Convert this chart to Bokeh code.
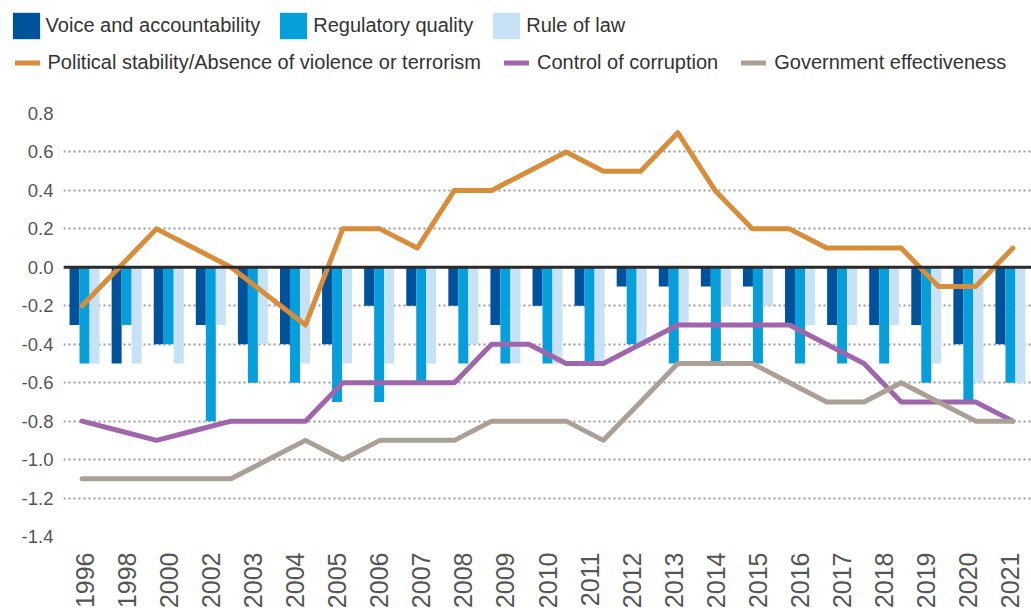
import math
from bokeh.plotting import figure
from bokeh.models import (FactorRange, Range1d, FixedTicker, Span, Legend, LegendItem,
                          CategoricalScale, ColumnDataSource, NumeralTickFormatter)
from bokeh.transform import dodge
from bokeh.embed import file_html
from bokeh.resources import INLINE

# ---- data ----
bar_years = ["1996", "1998", "2000", "2002", "2003", "2004", "2005", "2006", "2007",
             "2008", "2009", "2010", "2011", "2012", "2013", "2014", "2015", "2016",
             "2017", "2018", "2019", "2020", "2021"]
voice = [-0.3, -0.5, -0.4, -0.3, -0.4, -0.4, -0.4, -0.2, -0.2, -0.2, -0.3, -0.2,
         -0.2, -0.1, -0.1, -0.1, -0.1, -0.3, -0.3, -0.3, -0.3, -0.4, -0.4]
regulatory = [-0.5, -0.3, -0.4, -0.8, -0.6, -0.6, -0.7, -0.7, -0.6, -0.5, -0.5, -0.5,
              -0.5, -0.4, -0.5, -0.5, -0.5, -0.5, -0.5, -0.5, -0.6, -0.7, -0.6]
rule_of_law = [-0.5, -0.5, -0.5, -0.3, -0.4, -0.5, -0.5, -0.5, -0.5, -0.4, -0.5, -0.5,
               -0.5, -0.4, -0.3, -0.2, -0.2, -0.3, -0.3, -0.3, -0.5, -0.6, -0.6]

line_years = ["1996", "1997", "1998", "1999", "2000", "2001", "2002", "2003", "2004",
              "2005", "2006", "2007", "2008", "2009", "2010", "2011", "2012", "2013",
              "2014", "2015", "2016", "2017", "2018", "2019", "2020", "2021"]
political = [-0.2, 0.0, 0.2, 0.1, 0.0, -0.15, -0.3, 0.2, 0.2, 0.1, 0.4, 0.4, 0.5,
             0.6, 0.5, 0.5, 0.7, 0.4, 0.2, 0.2, 0.1, 0.1, 0.1, -0.1, -0.1, 0.1]
corruption = [-0.8, -0.85, -0.9, -0.85, -0.8, -0.8, -0.8, -0.6, -0.6, -0.6, -0.6, -0.4,
              -0.4, -0.5, -0.5, -0.4, -0.3, -0.3, -0.3, -0.3, -0.4, -0.5, -0.7, -0.7,
              -0.7, -0.8]
government = [-1.1, -1.1, -1.1, -1.1, -1.1, -1.0, -0.9, -1.0, -0.9, -0.9, -0.9, -0.8,
              -0.8, -0.8, -0.9, -0.7, -0.5, -0.5, -0.5, -0.6, -0.7, -0.7, -0.6, -0.7,
              -0.8, -0.8]

y_ticks = [-1.4, -1.2, -1.0, -0.8, -0.6, -0.4, -0.2, 0.0, 0.2, 0.4, 0.6, 0.8]

bar_labels = ["Voice and accountability", "Regulatory quality", "Rule of law"]
line_labels = ["Political stability/Absence of violence or terrorism",
               "Control of corruption", "Government effectiveness"]

FONT = "Liberation Sans"
C_VOICE = "#00539b"
C_REG = "#079fdb"
C_RULE = "#c7e2f4"
C_POL = "#d88d3a"
C_COR = "#a066ab"
C_GOV = "#aaa096"
LW = 5

bars = ColumnDataSource(dict(year=bar_years, voice=voice, regulatory=regulatory,
                             rule=rule_of_law))
lines = ColumnDataSource(dict(year=line_years, political=political,
                              corruption=corruption, government=government))

LEG_H = 95

# ---------------- main chart ----------------
p = figure(width=1031, height=611 - LEG_H,
           x_range=FactorRange(factors=bar_years, range_padding=0),
           y_range=Range1d(-1.4, 0.8),
           output_backend="svg", toolbar_location=None,
           min_border_left=63, min_border_right=0, min_border_top=113 - LEG_H,
           min_border_bottom=75)
p.extra_x_ranges = {"lines": FactorRange(factors=line_years, range_padding=0)}
p.extra_x_scales = {"lines": CategoricalScale()}
p.outline_line_color = None
p.background_fill_color = "white"
p.border_fill_color = "white"

bw = 0.2376
p.vbar(x=dodge("year", -bw, range=p.x_range), top="voice", bottom=0,
       width=bw, source=bars, fill_color=C_VOICE, line_color=None)
p.vbar(x=dodge("year", 0, range=p.x_range), top="regulatory", bottom=0,
       width=bw, source=bars, fill_color=C_REG, line_color=None)
p.vbar(x=dodge("year", bw, range=p.x_range), top="rule", bottom=0,
       width=bw, source=bars, fill_color=C_RULE, line_color=None)

p.add_layout(Span(location=0, dimension="width", line_color="#2a2a2a",
                  line_width=3, level="glyph"))

for col, c in (("political", C_POL), ("corruption", C_COR), ("government", C_GOV)):
    p.line(x="year", y=col, source=lines, x_range_name="lines", line_color=c,
           line_width=LW, line_join="round", line_cap="round")

p.xaxis.major_label_orientation = math.pi / 2
p.xaxis.major_label_text_font = FONT
p.xaxis.major_label_text_font_size = "25px"
p.xaxis.major_label_text_color = "#555555"
p.xaxis.major_label_standoff = 16
p.xaxis.axis_label_standoff = 0
p.xaxis.axis_line_color = None
p.xaxis.major_tick_line_color = None
p.xaxis.major_tick_out = 0
p.xaxis.major_tick_in = 0

p.yaxis.ticker = FixedTicker(ticks=y_ticks)
p.yaxis.formatter = NumeralTickFormatter(format="0.0")
p.yaxis.major_label_text_font = FONT
p.yaxis.major_label_text_font_size = "18.5px"
p.yaxis.major_label_text_color = "#555555"
p.yaxis.major_label_standoff = 10
p.yaxis.axis_label_standoff = 0
p.yaxis.axis_line_color = None
p.yaxis.major_tick_line_color = None
p.yaxis.minor_tick_line_color = None
p.yaxis.major_tick_out = 0
p.yaxis.major_tick_in = 0

p.xgrid.grid_line_color = None
p.ygrid.ticker = FixedTicker(ticks=y_ticks)
p.ygrid.grid_line_color = "#999999"
p.ygrid.grid_line_width = 2
p.ygrid.grid_line_dash = "2 3"

# ---------------- legend strip (separate root, data kept out of view) ----------------
lf = figure(width=1031, height=LEG_H,
            x_range=FactorRange(factors=line_years, range_padding=0),
            y_range=Range1d(1, 2),
            output_backend="svg", toolbar_location=None,
            x_axis_location=None, y_axis_location=None,
            min_border_left=0, min_border_right=0, min_border_top=0,
            min_border_bottom=0)
lf.outline_line_color = None
lf.xgrid.visible = False
lf.ygrid.visible = False
lf.background_fill_color = "white"
lf.border_fill_color = "white"

bar_items = []
for lab, col, c in zip(bar_labels, ("voice", "regulatory", "rule"),
                       (C_VOICE, C_REG, C_RULE)):
    r = lf.vbar(x="year", top=col, bottom=0, width=0.5, source=bars,
                fill_color=c, line_color=None)
    bar_items.append(LegendItem(label=lab, renderers=[r]))
line_items = []
for lab, col, c in zip(line_labels, ("political", "corruption", "government"),
                       (C_POL, C_COR, C_GOV)):
    r = lf.line(x="year", y=col, source=lines, line_color=c, line_width=LW,
                line_cap="round")
    line_items.append(LegendItem(label=lab, renderers=[r]))

def make_legend(items, loc, gw, gh, standoff, spacing):
    return Legend(items=items, location=loc, orientation="horizontal",
                  glyph_width=gw, glyph_height=gh, label_standoff=standoff,
                  spacing=spacing, padding=0, margin=0, border_line_color=None,
                  background_fill_alpha=0, label_text_font=FONT,
                  label_text_font_size="20px", label_text_color="#333333",
                  label_height=gh)

# bar legend glyphs are drawn with a 10% inset, so the box is enlarged to 34x33
lf.add_layout(make_legend(bar_items, (8.6, LEG_H - 41.7), 34, 33, 3, 16))
lf.add_layout(make_legend(line_items, (14.5, LEG_H - 75.5), 25, 27, 8, 23))

open("out.html", "w").write(file_html([lf, p], INLINE))
